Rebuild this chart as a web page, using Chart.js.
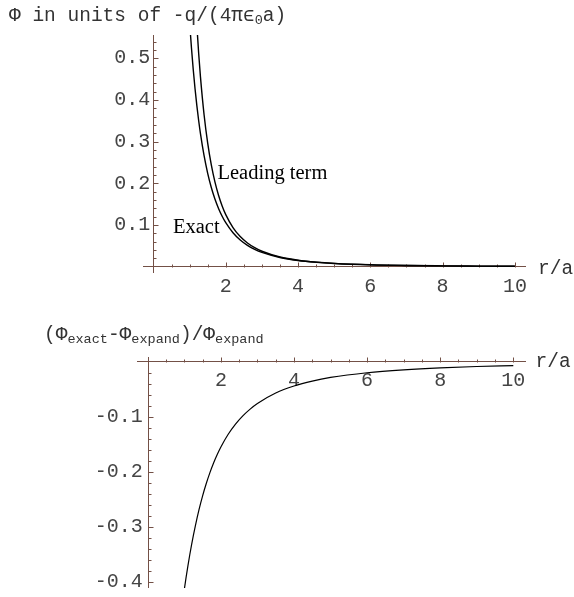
<!DOCTYPE html>
<html>
<head>
<meta charset="utf-8">
<script src="https://cdn.jsdelivr.net/npm/chart.js@4.4.0/dist/chart.umd.min.js"></script>
<style>
  html, body { margin: 0; padding: 0; background: #fff; }
  #page { position: relative; width: 574px; height: 597px; overflow: hidden; background: #fff; }
  canvas { position: absolute; left: 0; }
  .lbl { position: absolute; white-space: nowrap; line-height: 1; }
  .mono { font-family: "Liberation Mono", "Courier New", monospace; font-size: 19.5px; color: #333; }
  .serif { font-family: "Liberation Serif", "Times New Roman", serif; font-size: 20.5px; color: #000; }
  .sub { position: relative; top: 3px; font-size: 13.5px; }
</style>
</head>
<body>
<div id="page">
  <canvas id="phiChart" width="574" height="300" style="top:0"></canvas>
  <canvas id="diffChart" width="574" height="297" style="top:300px"></canvas>

  <div class="lbl mono" style="left:9px; top:6.5px">Φ in units of -q/(4πϵ<span class="sub">0</span>a)</div>
  <div class="lbl serif" style="left:217.5px; top:162px">Leading term</div>
  <div class="lbl serif" style="left:173px; top:216px">Exact</div>
  <div class="lbl mono" style="left:538px; top:259.5px">r/a</div>

  <div class="lbl mono" style="left:44px; top:325.5px">(Φ<span class="sub">exact</span>-Φ<span class="sub">expand</span>)/Φ<span class="sub">expand</span></div>
  <div class="lbl mono" style="left:535.5px; top:353px">r/a</div>
</div>

<script>
// r/a sample points
const rValues = [1, 1.05, 1.1, 1.15, 1.2, 1.25, 1.3, 1.4, 1.5, 1.6, 1.7, 1.8, 1.9, 2,
                 2.2, 2.4, 2.6, 2.8, 3, 3.5, 4, 4.5, 5, 6, 7, 8, 9, 10];

const exactPhi = [0.5858, 0.5255, 0.4728, 0.4268, 0.3863, 0.3506, 0.3190, 0.2661, 0.2239, 0.1900,
                  0.1624, 0.1398, 0.1211, 0.1056, 0.0815, 0.0641, 0.0513, 0.0416, 0.0342, 0.0220,
                  0.0149, 0.0106, 0.0078, 0.0045, 0.0029, 0.0019, 0.0014, 0.0010];

const leadingPhi = [1.0000, 0.8638, 0.7513, 0.6575, 0.5787, 0.5120, 0.4552, 0.3644, 0.2963, 0.2441,
                    0.2035, 0.1715, 0.1458, 0.1250, 0.0939, 0.0723, 0.0569, 0.0456, 0.0370, 0.0233,
                    0.0156, 0.0110, 0.0080, 0.0046, 0.0029, 0.0020, 0.0014, 0.0010];

const relDiff = [-0.4142, -0.3917, -0.3707, -0.3509, -0.3325, -0.3152, -0.2991, -0.2698, -0.2442, -0.2218,
                 -0.2020, -0.1845, -0.1691, -0.1554, -0.1323, -0.1138, -0.0988, -0.0865, -0.0763, -0.0574,
                 -0.0446, -0.0356, -0.0290, -0.0204, -0.0151, -0.0115, -0.0091, -0.0074];

const xTickLabels = [2, 4, 6, 8, 10];
const phiTickLabels = [0.1, 0.2, 0.3, 0.4, 0.5];
const diffTickLabels = [-0.4, -0.3, -0.2, -0.1];

const AXIS = 'rgb(115,80,70)';
const TICK_TEXT = '#444';
const MONO = '"Liberation Mono", "Courier New", monospace';

function stepValues(from, to, step) {
    const out = [];
    for (let i = 0; from + i * step <= to + 1e-9; i++) {
        out.push(+(from + i * step).toFixed(4));
    }
    return out;
}

function points(ys) {
    return rValues.map((r, i) => ({ x: r, y: ys[i] }));
}

// Mathematica-style axis: y line through x=0, small inward ticks
const mmaTicks = {
    id: 'mmaTicks',
    beforeDatasetsDraw(chart, args, o) {
        const { ctx, chartArea } = chart;
        const xs = chart.scales.x;
        const ys = chart.scales.y;
        const x0 = Math.round(xs.getPixelForValue(0)) + 0.5;
        const y0 = Math.round(ys.getPixelForValue(0)) + 0.5;
        const isMajor = (list, v) => list.some(m => Math.abs(m - v) < 1e-6);

        ctx.save();
        ctx.strokeStyle = AXIS;
        ctx.lineWidth = 1;
        ctx.beginPath();
        ctx.moveTo(x0, chartArea.top);
        ctx.lineTo(x0, chartArea.bottom);
        o.xMinor.forEach(v => {
            const p = Math.round(xs.getPixelForValue(v)) + 0.5;
            const len = isMajor(o.xMajor, v) ? 5 : 3;
            ctx.moveTo(p, y0);
            ctx.lineTo(p, y0 - len);
        });
        o.yMinor.forEach(v => {
            const p = Math.round(ys.getPixelForValue(v)) + 0.5;
            const len = isMajor(o.yMajor, v) ? 5 : 3;
            ctx.moveTo(x0, p);
            ctx.lineTo(x0 + len, p);
        });
        ctx.stroke();
        ctx.restore();
    }
};

function buildChart(id, datasets, cfg) {
    return new Chart(document.getElementById(id), {
        type: 'line',
        data: { datasets: datasets },
        options: {
            responsive: false,
            animation: false,
            events: [],
            layout: { padding: cfg.padding },
            plugins: {
                legend: { display: false },
                tooltip: { enabled: false },
                mmaTicks: cfg.ticks
            },
            elements: {
                point: { radius: 0 },
                line: {
                    borderColor: '#000',
                    borderWidth: cfg.lineWidth,
                    cubicInterpolationMode: 'monotone',
                    fill: false
                }
            },
            scales: {
                x: {
                    type: 'linear',
                    min: cfg.xMin,
                    max: cfg.xMax,
                    position: { y: 0 },
                    afterFit: s => { s.height = 0; },
                    afterBuildTicks: s => { s.ticks = xTickLabels.map(v => ({ value: v })); },
                    grid: { display: false },
                    border: { display: true, color: AXIS, width: 1 },
                    ticks: {
                        padding: cfg.xLabelPad,
                        maxRotation: 0,
                        autoSkip: false,
                        color: TICK_TEXT,
                        font: { family: MONO, size: 20, lineHeight: 1 },
                        callback: v => String(v)
                    }
                },
                y: {
                    type: 'linear',
                    min: cfg.yMin,
                    max: cfg.yMax,
                    position: { x: cfg.yLabelAt },
                    afterFit: s => { s.width = 0; },
                    afterBuildTicks: s => { s.ticks = cfg.yLabels.map(v => ({ value: v })); },
                    grid: { display: false },
                    border: { display: false },
                    ticks: {
                        padding: 0,
                        autoSkip: false,
                        color: TICK_TEXT,
                        font: { family: MONO, size: 20, lineHeight: 0.5 },
                        callback: v => v.toFixed(1)
                    }
                }
            }
        },
        plugins: [mmaTicks]
    });
}

document.addEventListener('DOMContentLoaded', () => {

    buildChart('phiChart',
        [
            { label: 'Exact', data: points(exactPhi) },
            { label: 'Leading term', data: points(leadingPhi) }
        ],
        {
            padding: { left: 143, right: 49, top: 35, bottom: 27 },
            xMin: -0.29, xMax: 10.28,
            yMin: -0.0151, yMax: 0.5556,
            yLabelAt: -0.09,
            yLabels: phiTickLabels,
            xLabelPad: 2,
            lineWidth: 1.4,
            ticks: {
                xMinor: stepValues(0.5, 10, 0.5), xMajor: xTickLabels,
                yMinor: stepValues(0.02, 0.54, 0.02), yMajor: phiTickLabels
            }
        });

    buildChart('diffChart',
        [
            { label: 'Relative error', data: points(relDiff) }
        ],
        {
            padding: { left: 137, right: 49, top: 57, bottom: 9 },
            xMin: -0.295, xMax: 10.32,
            yMin: -0.4118, yMax: 0.0082,
            yLabelAt: -0.14,
            yLabels: diffTickLabels,
            xLabelPad: 1,
            lineWidth: 1.2,
            ticks: {
                xMinor: stepValues(0.5, 10, 0.5), xMajor: xTickLabels,
                yMinor: stepValues(-0.40, -0.02, 0.02), yMajor: diffTickLabels
            }
        });
});
</script>
</body>
</html>
